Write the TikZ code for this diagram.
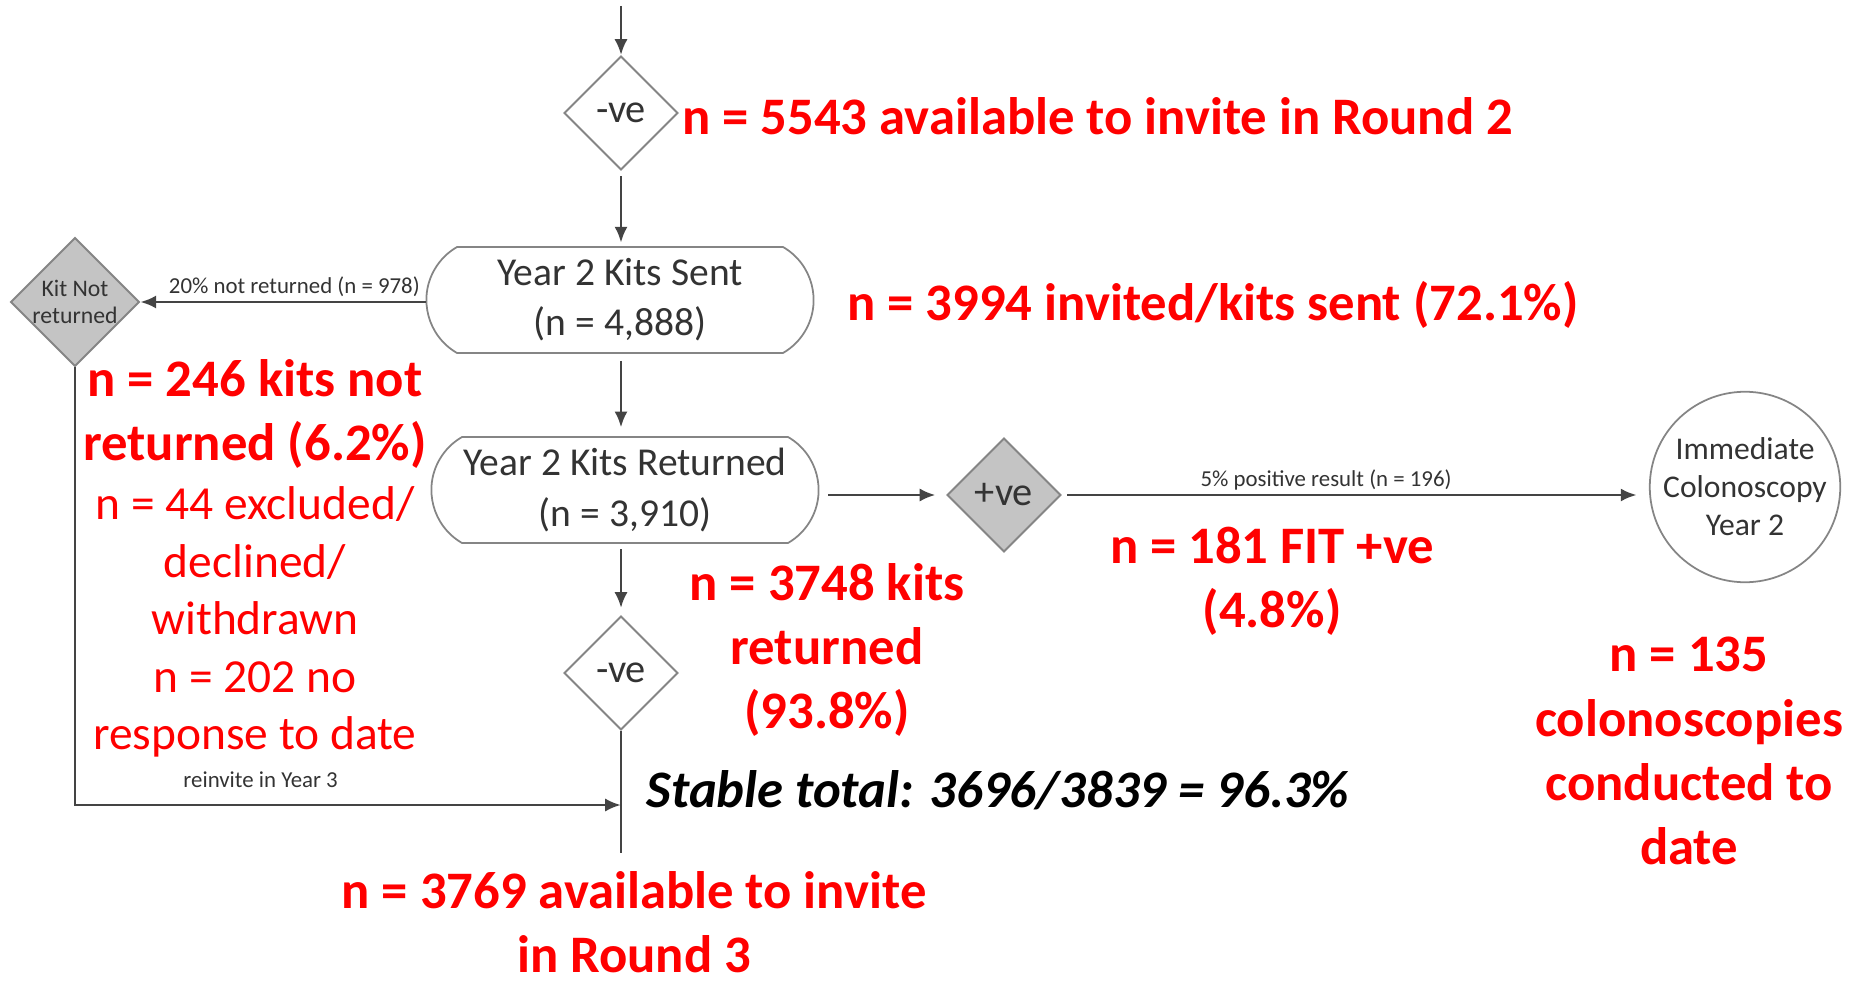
\documentclass[tikz,border=0pt]{standalone}
\usepackage{fontspec}
\setmainfont{Carlito}
\usetikzlibrary{positioning}
\usetikzlibrary{shapes.geometric,shapes.misc,arrows.meta}

\definecolor{linegray}{HTML}{444444}
\definecolor{edgegray}{HTML}{858585}
\definecolor{fillgray}{HTML}{C4C4C4}
\definecolor{txtgray}{HTML}{333333}

\tikzset{
 flow/.style={draw=linegray,line width=1.6pt,-{Latex[length=9pt,width=7.5pt]}},
 plain/.style={draw=linegray,line width=1.6pt},
 kitbox/.style={rounded rectangle,rounded rectangle arc length=120,draw=edgegray,line width=1pt,
   minimum width=7.98cm,minimum height=2.12cm,align=center,text=txtgray,font=\fontsize{22.5}{28.5}\selectfont},
 decision/.style={diamond,draw=edgegray,line width=1.1pt,minimum width=2.28cm,minimum height=2.28cm,
   inner sep=0pt,text=txtgray,font=\fontsize{23}{26}\selectfont},
 graydec/.style={decision,fill=fillgray},
 colobox/.style={circle,draw=edgegray,line width=1pt,minimum size=3.72cm,inner sep=0pt,align=center,
   text=txtgray,font=\fontsize{18}{21.6}\selectfont},
 flowlabel/.style={text=txtgray,font=\fontsize{13}{15}\selectfont,inner sep=2pt},
 redbold/.style={text=red,inner sep=0pt,align=center,font=\bfseries\fontsize{30}{36.5}\selectfont},
 redplain/.style={text=red,inner sep=0pt,align=center,font=\fontsize{27}{32.7}\selectfont}
}

\begin{document}
\begin{tikzpicture}[x=0.02cm,y=-0.02cm]
 \useasboundingbox (0,0) rectangle (1858,986);

 \coordinate (start) at (621,6);
 \node[decision] (neg1) at (621,113) {-ve};
 \node[kitbox] (sent) at (620,300) {Year 2 Kits Sent\\(n = 4,888)};
 \node[kitbox] (ret) at (625,490) {Year 2 Kits Returned\\(n = 3,910)};
 \node[graydec,minimum width=2.5cm,minimum height=2.5cm,font=\fontsize{13.5}{15.5}\selectfont,align=center] (knr) at (75,302) {Kit Not\\returned};
 \node[decision] (neg2) at (621,673) {-ve};
 \node[graydec] (pos) at (1004,495) {+ve};
 \node[colobox] (colo) at (1745,487) {Immediate\\Colonoscopy\\Year 2};
 \coordinate (join) at (621,805);
 \coordinate (end) at (621,853);

 \draw[flow] (start) -- (neg1);
 \draw[flow,shorten <=3pt,shorten >=2pt] (neg1) -- (neg1 |- sent.north);
 \draw[flow,shorten <=4pt,shorten >=5pt] (neg1 |- sent.south) -- (neg1 |- ret.north);
 \draw[flow,shorten <=3pt,shorten >=4pt] (neg2 |- ret.south) -- (neg2);
 \draw[flow] (sent.west |- knr.east) -- (knr.east) node[flowlabel,above,pos=0.46] {20\% not returned (n = 978)};
 \draw[flow,shorten <=5pt,shorten >=6pt] (ret.east |- pos.west) -- (pos.west);
 \draw[flow,shorten <=3pt,shorten >=7pt] (pos.east) -- (pos.east -| colo.west) node[flowlabel,above,pos=0.45] {5\% positive result (n = 196)};
 \draw[flow] (knr.south) |- (join) node[flowlabel,above=7pt,pos=0.67] {reinvite in Year 3};
 \draw[plain] (neg2.south) -- (end);

 \node[redbold,anchor=west] (avail2) at (682,116) {n = 5543 available to invite in Round 2};
 \node[redbold,anchor=west] (invited) at (847,305) {n = 3994 invited/kits sent (72.1\%)};
 \node[redbold] (notret) at (255,414) {n = 246 kits not\\returned (6.2\%)};
 \node[redplain] (excl) at (255,622) {n = 44 excluded/\\declined/\\withdrawn\\n = 202 no\\response to date};
 \node[redbold] (kitsret) at (827,650) {n = 3748 kits\\returned\\(93.8\%)};
 \node[redbold] (fitpos) at (1272,581) {n = 181 FIT +ve\\(4.8\%)};
 \node[redbold] (colos) at (1689,751) {n = 135\\colonoscopies\\conducted to\\date};
 \node[inner sep=0pt,font=\bfseries\itshape\fontsize{30}{36.5}\selectfont] (stable) at (998,790) {Stable total: 3696/3839 = 96.3\%};
 \node[redbold] (avail3) at (634,922) {n = 3769 available to invite\\in Round 3};
\end{tikzpicture}
\end{document}
